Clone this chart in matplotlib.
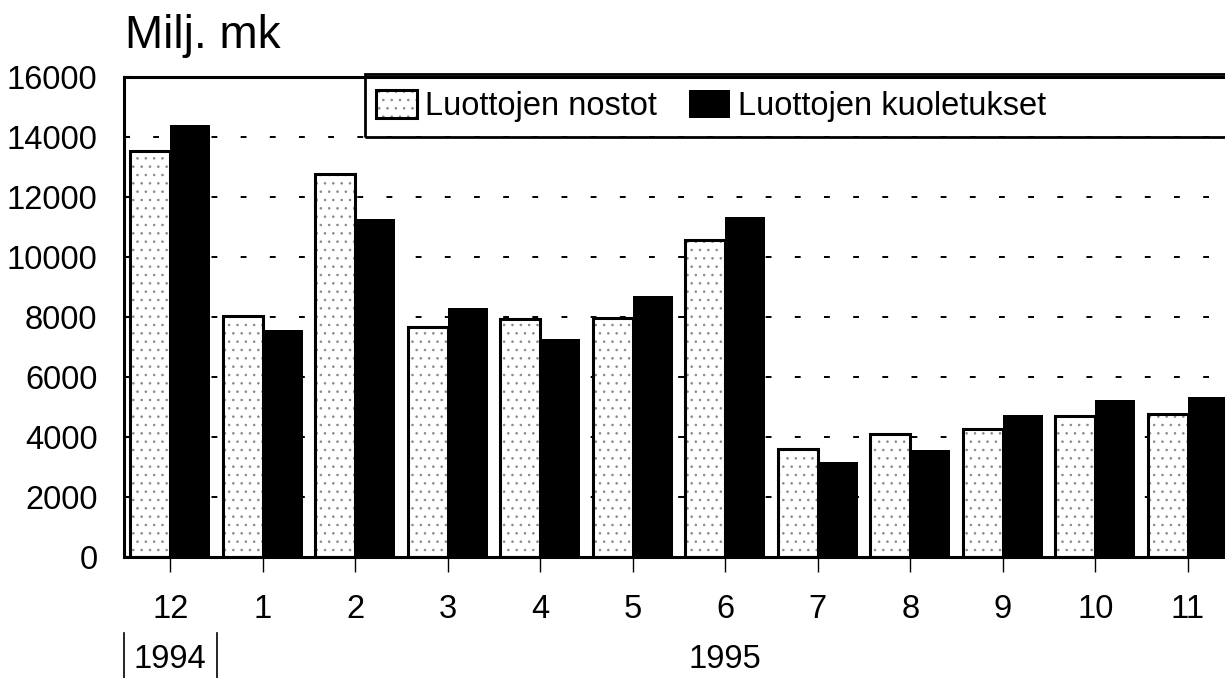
import numpy as np
import matplotlib.pyplot as plt
from matplotlib.patches import Rectangle
from matplotlib.lines import Line2D
from matplotlib.legend_handler import HandlerTuple
import matplotlib.transforms as mtransforms

plt.rcParams['font.family'] = ['Liberation Sans', 'DejaVu Sans']
plt.rcParams['hatch.linewidth'] = 0.6

# Data (million marks), months 12/1994 .. 11/1995
months = ['12', '1', '2', '3', '4', '5', '6', '7', '8', '9', '10', '11']
nostot = [13550, 8050, 12770, 7680, 7930, 7960, 10570, 3590, 4100, 4270, 4700, 4780]
kuoletukset = [14400, 7560, 11260, 8300, 7270, 8700, 11330, 3160, 3570, 4740, 5250, 5330]
labels = ['Luottojen nostot', 'Luottojen kuoletukset']
yticks = [0, 2000, 4000, 6000, 8000, 10000, 12000, 14000, 16000]

fig = plt.figure(figsize=(12.25, 6.78), dpi=100)
W, H = 1225, 678
ax = fig.add_axes([124 / W, 121 / H, 1110 / W, 480 / H])

x = np.arange(len(months))
w = 0.43

# light stippled bars: hatch layer + black outline layer
b1 = ax.bar(x - w / 2, nostot, w, color='white', edgecolor='#888888',
            hatch='..', linewidth=0, zorder=2)
b1o = ax.bar(x - w / 2, nostot, w, fill=False, edgecolor='black',
             linewidth=2.2, zorder=3)
b2 = ax.bar(x + w / 2, kuoletukset, w, color='black', edgecolor='black',
            linewidth=0, zorder=2)

ax.set_xlim(-0.5, 11.5)
ax.set_ylim(0, 16000)
ax.set_yticks(yticks)
ax.set_yticklabels([str(v) for v in yticks], fontsize=23.5)
ax.set_xticks(x)
ax.set_xticklabels(months, fontsize=23.5)

ax.set_axisbelow(True)
ax.grid(axis='y', color='black', linestyle=(0, (3, 12)), linewidth=1.4, zorder=0)

ax.tick_params(axis='y', direction='in', length=4, width=1.5, pad=19)
ax.tick_params(axis='x', direction='out', length=11, width=1, pad=16)

for s in ['left', 'top', 'bottom']:
    ax.spines[s].set_linewidth(2.2)
ax.spines['right'].set_visible(False)

# title / unit
fig.text(125 / W, 1 - 48 / H, 'Milj. mk', fontsize=33, va='baseline', ha='left')

# year labels below the month ticks
trans = mtransforms.blended_transform_factory(ax.transData, fig.transFigure)
ax.text(0, 1 - 660 / H, '1994', transform=trans, fontsize=23.5,
        ha='center', va='center')
ax.text(6, 1 - 660 / H, '1995', transform=trans, fontsize=23.5,
        ha='center', va='center')
for xv in [-0.5, 0.5]:
    ax.add_line(Line2D([xv, xv], [0, 1 - 633 / H], transform=trans,
                       color='black', linewidth=1.2, clip_on=False))

# legend box
fig.patches.append(Rectangle((365 / W, 1 - 137 / H), 900 / W, 63 / H,
                             transform=fig.transFigure, fill=False,
                             edgecolor='black', linewidth=2, zorder=5))
fig.legend([(b1[0], b1o[0]), b2[0]], labels, ncol=2, loc='center left',
           bbox_to_anchor=(376 / W, 1 - 106 / H), frameon=False, fontsize=23.5,
           handlelength=1.25, handleheight=0.94, handletextpad=0.25,
           columnspacing=1.0, borderpad=0, borderaxespad=0,
           handler_map={tuple: HandlerTuple(ndivide=1, pad=0)})

fig.savefig('out.png', dpi=100)
